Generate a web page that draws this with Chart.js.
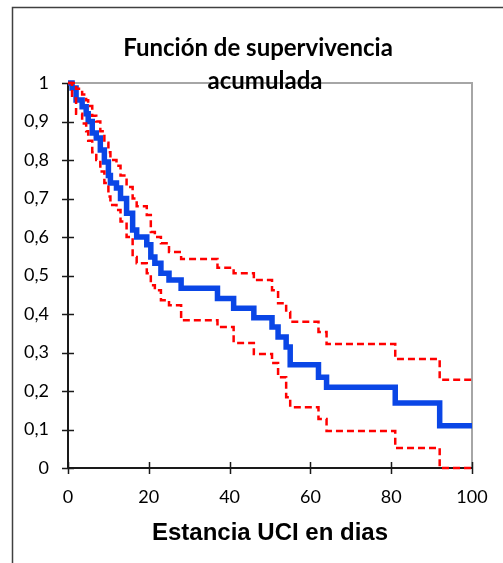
<!DOCTYPE html>
<html>
<head>
<meta charset="utf-8">
<script src="https://cdn.jsdelivr.net/npm/chart.js@4.4.1/dist/chart.umd.min.js"></script>
<style>
  html, body { margin: 0; padding: 0; background: #fff; }
  canvas { display: block; }
</style>
</head>
<body>
<canvas id="km" width="503" height="563"></canvas>
<script>
  // Kaplan-Meier steps (day, value after the step)
  const eventDays = [0, 1, 2, 3.5, 4.5, 5, 6, 7, 8, 9, 10, 10.5, 12, 13, 14.5, 16, 17, 19.5, 20.5, 21.5,
    23, 25, 28, 37, 41, 46, 50.5, 52, 54, 55, 62, 64, 81, 92, 100];
  const survival = [1, 0.987, 0.956, 0.938, 0.92, 0.9, 0.87, 0.857, 0.826, 0.795, 0.76, 0.74, 0.727, 0.7,
    0.662, 0.618, 0.6, 0.58, 0.548, 0.532, 0.506, 0.488, 0.467, 0.44, 0.415, 0.39, 0.366, 0.34, 0.314,
    0.268, 0.236, 0.21, 0.169, 0.11, 0.11];
  const upperCI = [1, 1, 0.985, 0.97, 0.955, 0.94, 0.915, 0.9, 0.875, 0.845, 0.82, 0.8, 0.785, 0.76,
    0.73, 0.7, 0.68, 0.657, 0.613, 0.6, 0.584, 0.561, 0.543, 0.52, 0.506, 0.488, 0.462, 0.428, 0.405,
    0.38, 0.353, 0.322, 0.283, 0.229, 0.229];
  const lowerCI = [1, 0.96, 0.92, 0.895, 0.875, 0.85, 0.82, 0.8, 0.77, 0.74, 0.705, 0.683, 0.67, 0.64,
    0.6, 0.548, 0.532, 0.506, 0.475, 0.462, 0.436, 0.423, 0.384, 0.366, 0.325, 0.296, 0.273, 0.236, 0.184,
    0.158, 0.127, 0.096, 0.052, 0, 0];

  const xTicks = [0, 20, 40, 60, 80, 100];
  const yTicks = [0, 0.1, 0.2, 0.3, 0.4, 0.5, 0.6, 0.7, 0.8, 0.9, 1];
  const titleLines = ['Función de supervivencia', 'acumulada'];
  const xTitle = 'Estancia UCI en dias';

  const toPoints = vals => eventDays.map((d, i) => ({ x: d, y: vals[i] }));
  const fmtComma = v => String(Math.round(v * 10) / 10).replace('.', ',');

  // frame, crossing tick marks, titles
  const decor = {
    id: 'decor',
    beforeDatasetsDraw(chart) {
      const { ctx, chartArea: a, scales: { x, y } } = chart;
      ctx.save();
      // outer chart border (runs off the picture right and bottom)
      ctx.strokeStyle = '#404040';
      ctx.lineWidth = 1.5;
      ctx.strokeRect(12.5, 7.5, 600, 700);
      // top and right edge of plot area
      ctx.strokeStyle = '#a6a6a6';
      ctx.lineWidth = 2;
      ctx.beginPath();
      ctx.moveTo(a.left, a.top);
      ctx.lineTo(a.right, a.top);
      ctx.lineTo(a.right, a.bottom);
      ctx.stroke();
      // axes
      ctx.strokeStyle = '#1a1a1a';
      ctx.beginPath();
      ctx.moveTo(a.left, a.top);
      ctx.lineTo(a.left, a.bottom);
      ctx.lineTo(a.right, a.bottom);
      ctx.stroke();
      ctx.lineWidth = 1.5;
      ctx.beginPath();
      xTicks.forEach(t => {
        const px = Math.round(x.getPixelForValue(t)) + 0.5;
        ctx.moveTo(px, a.bottom - 6);
        ctx.lineTo(px, a.bottom + 6);
      });
      yTicks.forEach(t => {
        const py = Math.round(y.getPixelForValue(t)) + 0.5;
        ctx.moveTo(a.left - 6, py);
        ctx.lineTo(a.left + 6, py);
      });
      ctx.stroke();
      ctx.restore();
    },
    afterDraw(chart) {
      const { ctx, chartArea: a } = chart;
      ctx.save();
      ctx.fillStyle = '#000';
      ctx.textAlign = 'center';
      ctx.textBaseline = 'alphabetic';
      ctx.font = 'bold 24px Lato';
      ctx.fillText(titleLines[0], 258, 56);
      ctx.fillText(titleLines[1], 265, 89);
      ctx.font = 'bold 24px "Liberation Sans"';
      ctx.fillText(xTitle, (a.left + a.right) / 2, 540);
      ctx.restore();
    }
  };

  new Chart(document.getElementById('km'), {
    type: 'line',
    data: {
      datasets: [
        {
          label: 'Límite superior',
          data: toPoints(upperCI),
          borderColor: '#ff0000',
          borderWidth: 2.5,
          borderDash: [7, 4],
          stepped: 'before',
          pointRadius: 0,
          fill: false,
          clip: 4
        },
        {
          label: 'Límite inferior',
          data: toPoints(lowerCI),
          borderColor: '#ff0000',
          borderWidth: 2.5,
          borderDash: [7, 4],
          stepped: 'before',
          pointRadius: 0,
          fill: false,
          clip: 4
        },
        {
          label: 'Supervivencia',
          data: toPoints(survival),
          borderColor: '#0a46e6',
          borderWidth: 5.5,
          stepped: 'before',
          pointRadius: 0,
          fill: false,
          clip: 4
        }
      ]
    },
    options: {
      responsive: false,
      animation: false,
      layout: { padding: { top: 83, right: 31, left: 0, bottom: 0 } },
      plugins: { legend: { display: false }, tooltip: { enabled: false } },
      scales: {
        x: {
          type: 'linear',
          min: 0,
          max: 100,
          grid: { display: false, drawTicks: false },
          border: { display: false },
          ticks: {
            stepSize: 20,
            padding: 18,
            color: '#000',
            font: { family: 'Lato', size: 18 }
          },
          afterFit: s => { s.height = 95; s.paddingLeft = 0; s.paddingRight = 0; }
        },
        y: {
          min: 0,
          max: 1,
          grid: { display: false, drawTicks: false },
          border: { display: false },
          ticks: {
            stepSize: 0.1,
            padding: 19,
            color: '#000',
            font: { family: 'Lato', size: 18 },
            callback: v => fmtComma(v)
          },
          afterFit: s => { s.width = 68; s.paddingTop = 0; s.paddingBottom = 0; }
        }
      }
    },
    plugins: [decor]
  });
</script>
</body>
</html>
